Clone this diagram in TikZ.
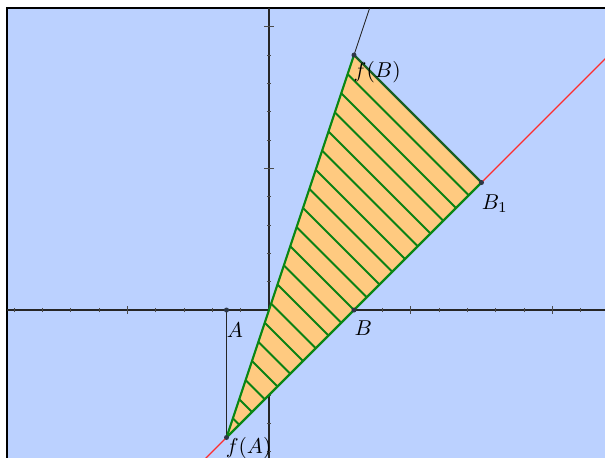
\documentclass[tikz,border=0pt]{standalone}
\usetikzlibrary{calc}
\definecolor{bgblue}{RGB}{187,209,255}
\definecolor{fillor}{RGB}{255,202,128}
\definecolor{edgegreen}{RGB}{10,135,20}
\definecolor{darkedge}{RGB}{25,95,35}
\definecolor{hatchgreen}{RGB}{10,130,20}
\definecolor{redline}{RGB}{255,45,45}
\definecolor{dotcol}{RGB}{45,55,70}
\tikzset{
  axisline/.style={line width=1.1pt, black!85},
  tickmark/.style={line width=0.7pt, black!70},
  greenedge/.style={line width=2.2pt, edgegreen, line cap=round, line join=round},
  hatchline/.style={line width=2pt, hatchgreen},
  thinblack/.style={line width=0.9pt, black!85},
  redl/.style={line width=1.1pt, redline},
  ptdot/.style={circle, fill=dotcol, inner sep=0pt, minimum size=5pt},
  lbl/.style={inner sep=0pt, scale=2.15}
}
\begin{document}
\begin{tikzpicture}[x=28.33pt,y=28.33pt]
\useasboundingbox (-9.495,-5.189) rectangle (11.86,10.943);
\fill[white] (-9.495,-5.189) rectangle (11.86,10.943);
\fill[bgblue] (-9.25,-5.3) rectangle (12,10.66);
\draw[line width=1.6pt, black] (-9.25,-5.3) -- (-9.25,10.66) -- (12,10.66);
\begin{scope}
\clip (-9.25,-5.3) rectangle (12,10.66);
% axes
\coordinate (xl) at (-9.25,0);
\coordinate (xr) at (12,0);
\coordinate (yb) at (0,-5.3);
\coordinate (yt) at (0,10.66);
\draw[axisline] (xl) -- (xr);
\draw[axisline] (yb) -- (yt);
\foreach \i in {-9,...,-1,1,2,...,11}{\draw[tickmark] (\i,-0.07) -- (\i,0.07);}
\foreach \i in {-5,5,10}{\draw[tickmark, line width=1pt] (\i,-0.13) -- (\i,0.13);}
\foreach \j in {-5,...,-1,1,2,...,10}{\draw[tickmark] (-0.07,\j) -- (0.07,\j);}
\foreach \j in {5,10}{\draw[tickmark, line width=1pt] (-0.17,\j) -- (0.17,\j);}
% points
\coordinate (A) at (-1.5,0);
\coordinate (B) at (3,0);
\coordinate (fA) at (-1.5,-4.5);
\coordinate (fB) at (3,9);
\coordinate (B1) at (7.5,4.5);
\coordinate (topend) at (3.6,10.8);
\coordinate (redlow) at (-4,-7);
\coordinate (redhigh) at (13,10);
% triangle
\fill[fillor] (fA) -- (fB) -- (B1) -- cycle;
\foreach \k in {1,...,19}{
  \pgfmathsetmacro\c{-6+0.9*\k}
  \draw[hatchline] ({\c/4},{3*\c/4}) -- ({(\c+3)/2},{(\c-3)/2});
}
\draw[redl] (redlow) -- (fA);
\draw[redl] (B1) -- (redhigh);
\draw[thinblack] (fB) -- (topend);
\draw[thinblack] (A) -- (fA);
\draw[greenedge] (fA) -- (fB);
\draw[greenedge] (fA) -- (B1);
\draw[greenedge, darkedge] (fB) -- (B1);
\node[ptdot] (pA) at (A) {};
\node[ptdot] (pB) at (B) {};
\node[ptdot] (pfA) at (fA) {};
\node[ptdot] (pfB) at (fB) {};
\node[ptdot] (pB1) at (B1) {};
\end{scope}
% labels
\node[lbl] (lA) at (-1.2,-0.7) {$A$};
\node[lbl] (lB) at (3.33,-0.64) {$B$};
\node[lbl] (lfB) at (3.82,8.4) {$f(B)$};
\node[lbl] (lB1) at (7.97,3.76) {$B_1$};
\node[lbl] (lfA) at (-0.72,-4.88) {$f(A)$};
\end{tikzpicture}
\end{document}
